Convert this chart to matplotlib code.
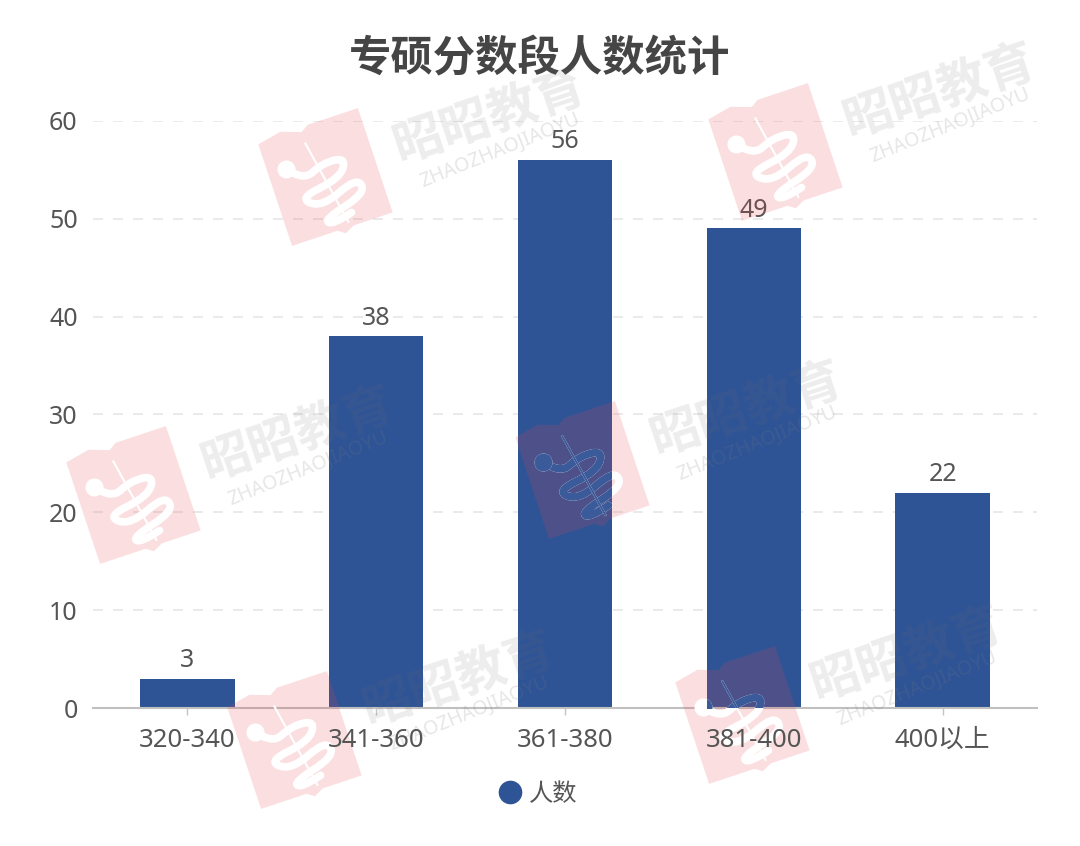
#! /usr/bin/python3
import numpy as np
import matplotlib
matplotlib.use('Agg')
import matplotlib.pyplot as plt
from matplotlib.lines import Line2D
from matplotlib.patches import Polygon, PathPatch
from matplotlib.path import Path

plt.rcParams['font.family'] = ['Noto Sans', 'Noto Sans CJK SC', 'DejaVu Sans']

categories = ['320-340', '341-360', '361-380', '381-400', '400以上']
counts = [3, 38, 56, 49, 22]
y_ticks = [0, 10, 20, 30, 40, 50, 60]

bar_color = '#2f5496'
text_color = '#555555'

fig = plt.figure(figsize=(10.8, 8.46), dpi=100)
ax = fig.add_axes([93 / 1080, 1 - 708.2 / 846, 944 / 1080, 587.5 / 846])

x = np.arange(len(categories))
bars = ax.bar(x, counts, width=0.5, color=bar_color, zorder=3, label='人数')
ax.bar_label(bars, padding=4, fontsize=18, color=text_color)

ax.set_xlim(-0.5, 4.5)
ax.set_ylim(0, 60)
ax.set_xticks(x)
ax.set_yticks(y_ticks)
ax.tick_params(axis='x', length=5, width=1, color='#c4c4c4', labelbottom=False)
ax.tick_params(axis='y', length=0, labelsize=18, labelcolor=text_color, pad=11)
ax.grid(axis='y', color='#e6e6e6', lw=1.2, dashes=(6, 6), zorder=0)
for s in ['top', 'right', 'left']:
    ax.spines[s].set_visible(False)
ax.spines['bottom'].set_color('#c0c0c0')
ax.spines['bottom'].set_linewidth(1.5)
ax.spines['bottom'].set_zorder(4)

fig.text(0.5, 1 - 59 / 846, '专硕分数段人数统计', ha='center', va='center',
         fontsize=30.5, fontweight='bold', color='#454545',
         family=['Noto Sans CJK SC'])

handle = Line2D([], [], marker='o', ls='none', ms=16, color=bar_color)
ax.legend([handle], ['人数'], loc='center', frameon=False, fontsize=17.5,
          labelcolor=text_color, handletextpad=-0.25,
          bbox_to_anchor=(0.4645, 1 - (795 - 121) / 587.5))

# watermark layer, in pixel coordinates of the picture
over = fig.add_axes([0, 0, 1, 1], zorder=10)
over.set_xlim(0, 1080)
over.set_ylim(846, 0)
over.axis('off')

marks = [(325, 177), (775, 152), (133, 495), (582, 470), (294, 740), (742, 715)]
book = np.array([(-53, -52), (-28, -57), (-8, -50), (0, -55), (53, -55),
                 (53, 55), (12, 55), (2, 60), (-5, 55), (-53, 55)], float)
snake = np.array([(-34, -20), (-22, -3), (2, -14), (26, -12), (14, 6), (-32, 12),
                  (-12, 28), (30, 10), (34, 28), (-14, 40), (-8, 48), (36, 36)], float)
staff = np.array([(-8, -38), (8, 50)], float)
a = np.radians(18.4)


def rot(pts, cx, cy):
    px = pts[:, 0] * np.cos(a) + pts[:, 1] * np.sin(a)
    py = -pts[:, 0] * np.sin(a) + pts[:, 1] * np.cos(a)
    return np.c_[px + cx, py + cy]


def smooth(pts):
    # quadratic segments through the midpoints
    verts = [pts[0]]
    for p, q in zip(pts[1:-1], pts[2:]):
        verts += [p, (p + q) / 2]
    codes = [Path.MOVETO] + [Path.CURVE3] * (len(verts) - 1)
    return Path(verts, codes)


def draw_snake(cx, cy, color, clip=None):
    pts = rot(snake, cx, cy)
    items = [PathPatch(smooth(pts), fc='none', ec=color, lw=5.5, capstyle='round')]
    st = rot(staff, cx, cy)
    items += over.plot(st[:, 0], st[:, 1], color=color, lw=1.5)
    items += over.plot(pts[0, 0], pts[0, 1], 'o', color=color, ms=12)
    over.add_patch(items[0])
    if clip is not None:
        for it in items:
            it.set_clip_path(clip)


for cx, cy in marks:
    over.add_patch(Polygon(rot(book, cx, cy), color='#e8444a', alpha=0.17, lw=0))
    over.text(cx + 165, cy - 60, '昭昭教育', fontsize=36, fontweight='bold',
              color='#666666', alpha=0.12, rotation=18.4, ha='center', va='center',
              rotation_mode='anchor', family=['Noto Sans CJK SC'])
    over.text(cx + 175, cy - 27, 'ZHAOZHAOJIAOYU', fontsize=14, color='#777777',
              alpha=0.18, rotation=22, ha='center', va='center',
              rotation_mode='anchor')
    draw_snake(cx, cy, 'white')
    # where the mark lies on a bar the snake takes the bar colour
    for b in bars:
        draw_snake(cx, cy, '#3a5a9a', clip=b)

# category labels stay readable above the watermark
for xi, label in zip(x, categories):
    over.annotate(label, xy=(xi, 0), xycoords=ax.get_xaxis_transform(),
                  xytext=(0, -14), textcoords='offset points', ha='center',
                  va='top', fontsize=18.5, color=text_color, zorder=20)

fig.savefig('out.png', dpi=100)
